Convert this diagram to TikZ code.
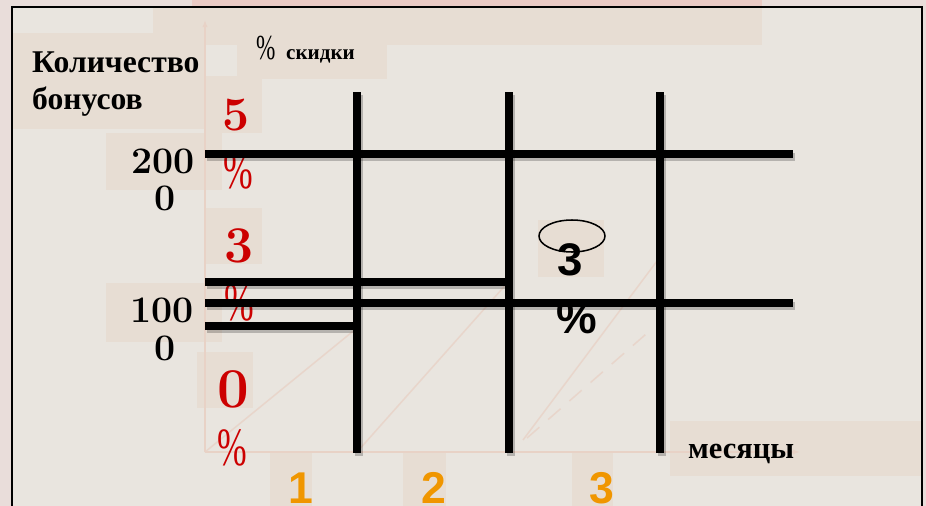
\documentclass[tikz,border=0pt]{standalone}
\usepackage{fontspec}
\setsansfont{Liberation Sans}
\newfontfamily\rusfont{Liberation Serif}
\usetikzlibrary{arrows.meta, positioning}
\definecolor{slidebg}{RGB}{233,229,223}
\definecolor{outerbg}{RGB}{233,221,218}
\definecolor{topstrip}{RGB}{234,202,196}
\definecolor{boxbg}{RGB}{231,221,211}
\definecolor{faintline}{RGB}{232,210,198}
\definecolor{redtxt}{RGB}{204,0,0}
\definecolor{orangetxt}{RGB}{240,150,0}
\newcommand{\narrowpct}{\scalebox{0.66}[1]{\rusfont\%}}

\begin{document}
\begin{tikzpicture}[x=0.03cm, y=-0.03cm,
    gridline/.style={line width=6.4pt, black},
    gridshade/.style={line width=7.5pt, black, opacity=0.22},
    backbox/.style={fill=boxbg, draw=none},
    faint/.style={draw=faintline, line width=1.3pt},
    txt/.style={inner sep=0pt, anchor=base},
    rednum/.style={txt, text=redtxt, font=\bfseries},
    redpct/.style={txt, text=redtxt, font=\fontsize{46}{46}\selectfont},
    blacknum/.style={txt, font=\fontsize{32}{32}\selectfont\bfseries},
    month/.style={txt, text=orangetxt, font=\fontsize{38}{38}\selectfont\sffamily\bfseries}]
  \useasboundingbox (0,0) rectangle (926,506);
  % slide background
  \fill[outerbg] (0,0) rectangle (926,506);
  \fill[topstrip] (192,0) rectangle (762,7);
  \fill[slidebg] (12,7) rectangle (922,520);
  % faint boxes behind the texts
  \fill[backbox] (153,7) rectangle (762,45);
  \fill[backbox] (12,33) rectangle (205,129);
  \fill[backbox] (237,24) rectangle (387,79);
  \fill[backbox] (205,76) rectangle (262,133);
  \fill[backbox] (106,133) rectangle (222,190);
  \fill[backbox] (205,208) rectangle (262,264);
  \fill[backbox] (106,283) rectangle (222,342);
  \fill[backbox] (197,352) rectangle (253,408);
  \fill[backbox] (270,452) rectangle (312,506);
  \fill[backbox] (403,452) rectangle (446,506);
  \fill[backbox] (572,452) rectangle (613,506);
  \fill[backbox] (538,220) rectangle (604,277);
  \fill[backbox] (670,421) rectangle (922,476);
  \draw[black, line width=1.3pt] (12,520) -- (12,7) -- (922,7) -- (922,520);
  % faint axes and graph lines
  \draw[faint, -{Latex[length=6pt]}] (205,452) -- (205,20);
  \draw[faint, -{Latex[length=6pt]}] (205,452) -- (800,452);
  \draw[faint, opacity=0.8] (205,452) -- (357,328);
  \draw[faint, opacity=0.8] (357,452) -- (510,280);
  \draw[faint, opacity=0.8] (523,440) -- (660,257);
  \draw[faint, opacity=0.8, dash pattern=on 14pt off 10pt] (527,438) -- (653,328);
  % texts
  \node[txt, anchor=base west, font=\fontsize{27}{27}\selectfont\rusfont\bfseries] (title1) at (32,72) {Количество};
  \node[txt, anchor=base west, font=\fontsize{27}{27}\selectfont\rusfont\bfseries] (title2) at (32,110) {бонусов};
  \node[txt, anchor=base west] (pcttitle) at (256,60)
    {\fontsize{30}{30}\selectfont\narrowpct\ \fontsize{18}{18}\selectfont\rusfont\bfseries скидки};
  \node[blacknum] (n200) at (163,173) {200};
  \node[blacknum] (n200b) at (165,210) {0};
  \node[blacknum] (n100) at (162,322) {100};
  \node[blacknum] (n100b) at (165,360) {0};
  \node[rednum, font=\fontsize{41}{41}\selectfont\bfseries] (r5) at (236,130) {5};
  \node[redpct] (r5p) at (238,188) {\narrowpct};
  \node[rednum, font=\fontsize{44}{44}\selectfont\bfseries] (r3) at (239,262) {3};
  \node[redpct] (r3p) at (239,320) {\narrowpct};
  \node[rednum, font=\fontsize{48}{48}\selectfont\bfseries] (r0) at (233,407) {0};
  \node[redpct] (r0p) at (232,465) {\narrowpct};
  \node[month] (m1) at (301,503) {1};
  \node[month] (m2) at (434,503) {2};
  \node[month] (m3) at (602,503) {3};
  \node[txt, anchor=base west, font=\fontsize{26}{26}\selectfont\rusfont\bfseries] (months) at (688,458) {месяцы};
  % shadows of the thick lines
  \begin{scope}[shift={(2,3)}]
    \draw[gridshade] (357,92) -- (357,453);
    \draw[gridshade] (509,92) -- (509,453);
    \draw[gridshade] (660,92) -- (660,453);
    \draw[gridshade] (205,154) -- (793,154);
    \draw[gridshade] (205,282) -- (507,282);
    \draw[gridshade] (205,303) -- (793,303);
    \draw[gridshade] (205,326) -- (357,326);
  \end{scope}
  % thick lines
  \draw[gridline] (357,92) -- (357,453);
  \draw[gridline] (509,92) -- (509,453);
  \draw[gridline] (660,92) -- (660,453);
  \draw[gridline] (205,154) -- (793,154);
  \draw[gridline] (205,282) -- (507,282);
  \draw[gridline] (205,303) -- (793,303);
  \draw[gridline] (205,326) -- (357,326);
  % 3 % in the oval
  \draw[fill=boxbg, line width=1.3pt] (572,236) ellipse [x radius=33, y radius=16];
  \node[txt, font=\fontsize{39}{39}\selectfont\sffamily\bfseries] (s3) at (570,275) {3};
  \node[txt, font=\fontsize{39}{39}\selectfont\sffamily\bfseries] (s3p) at (577,333) {\%};
\end{tikzpicture}
\end{document}
